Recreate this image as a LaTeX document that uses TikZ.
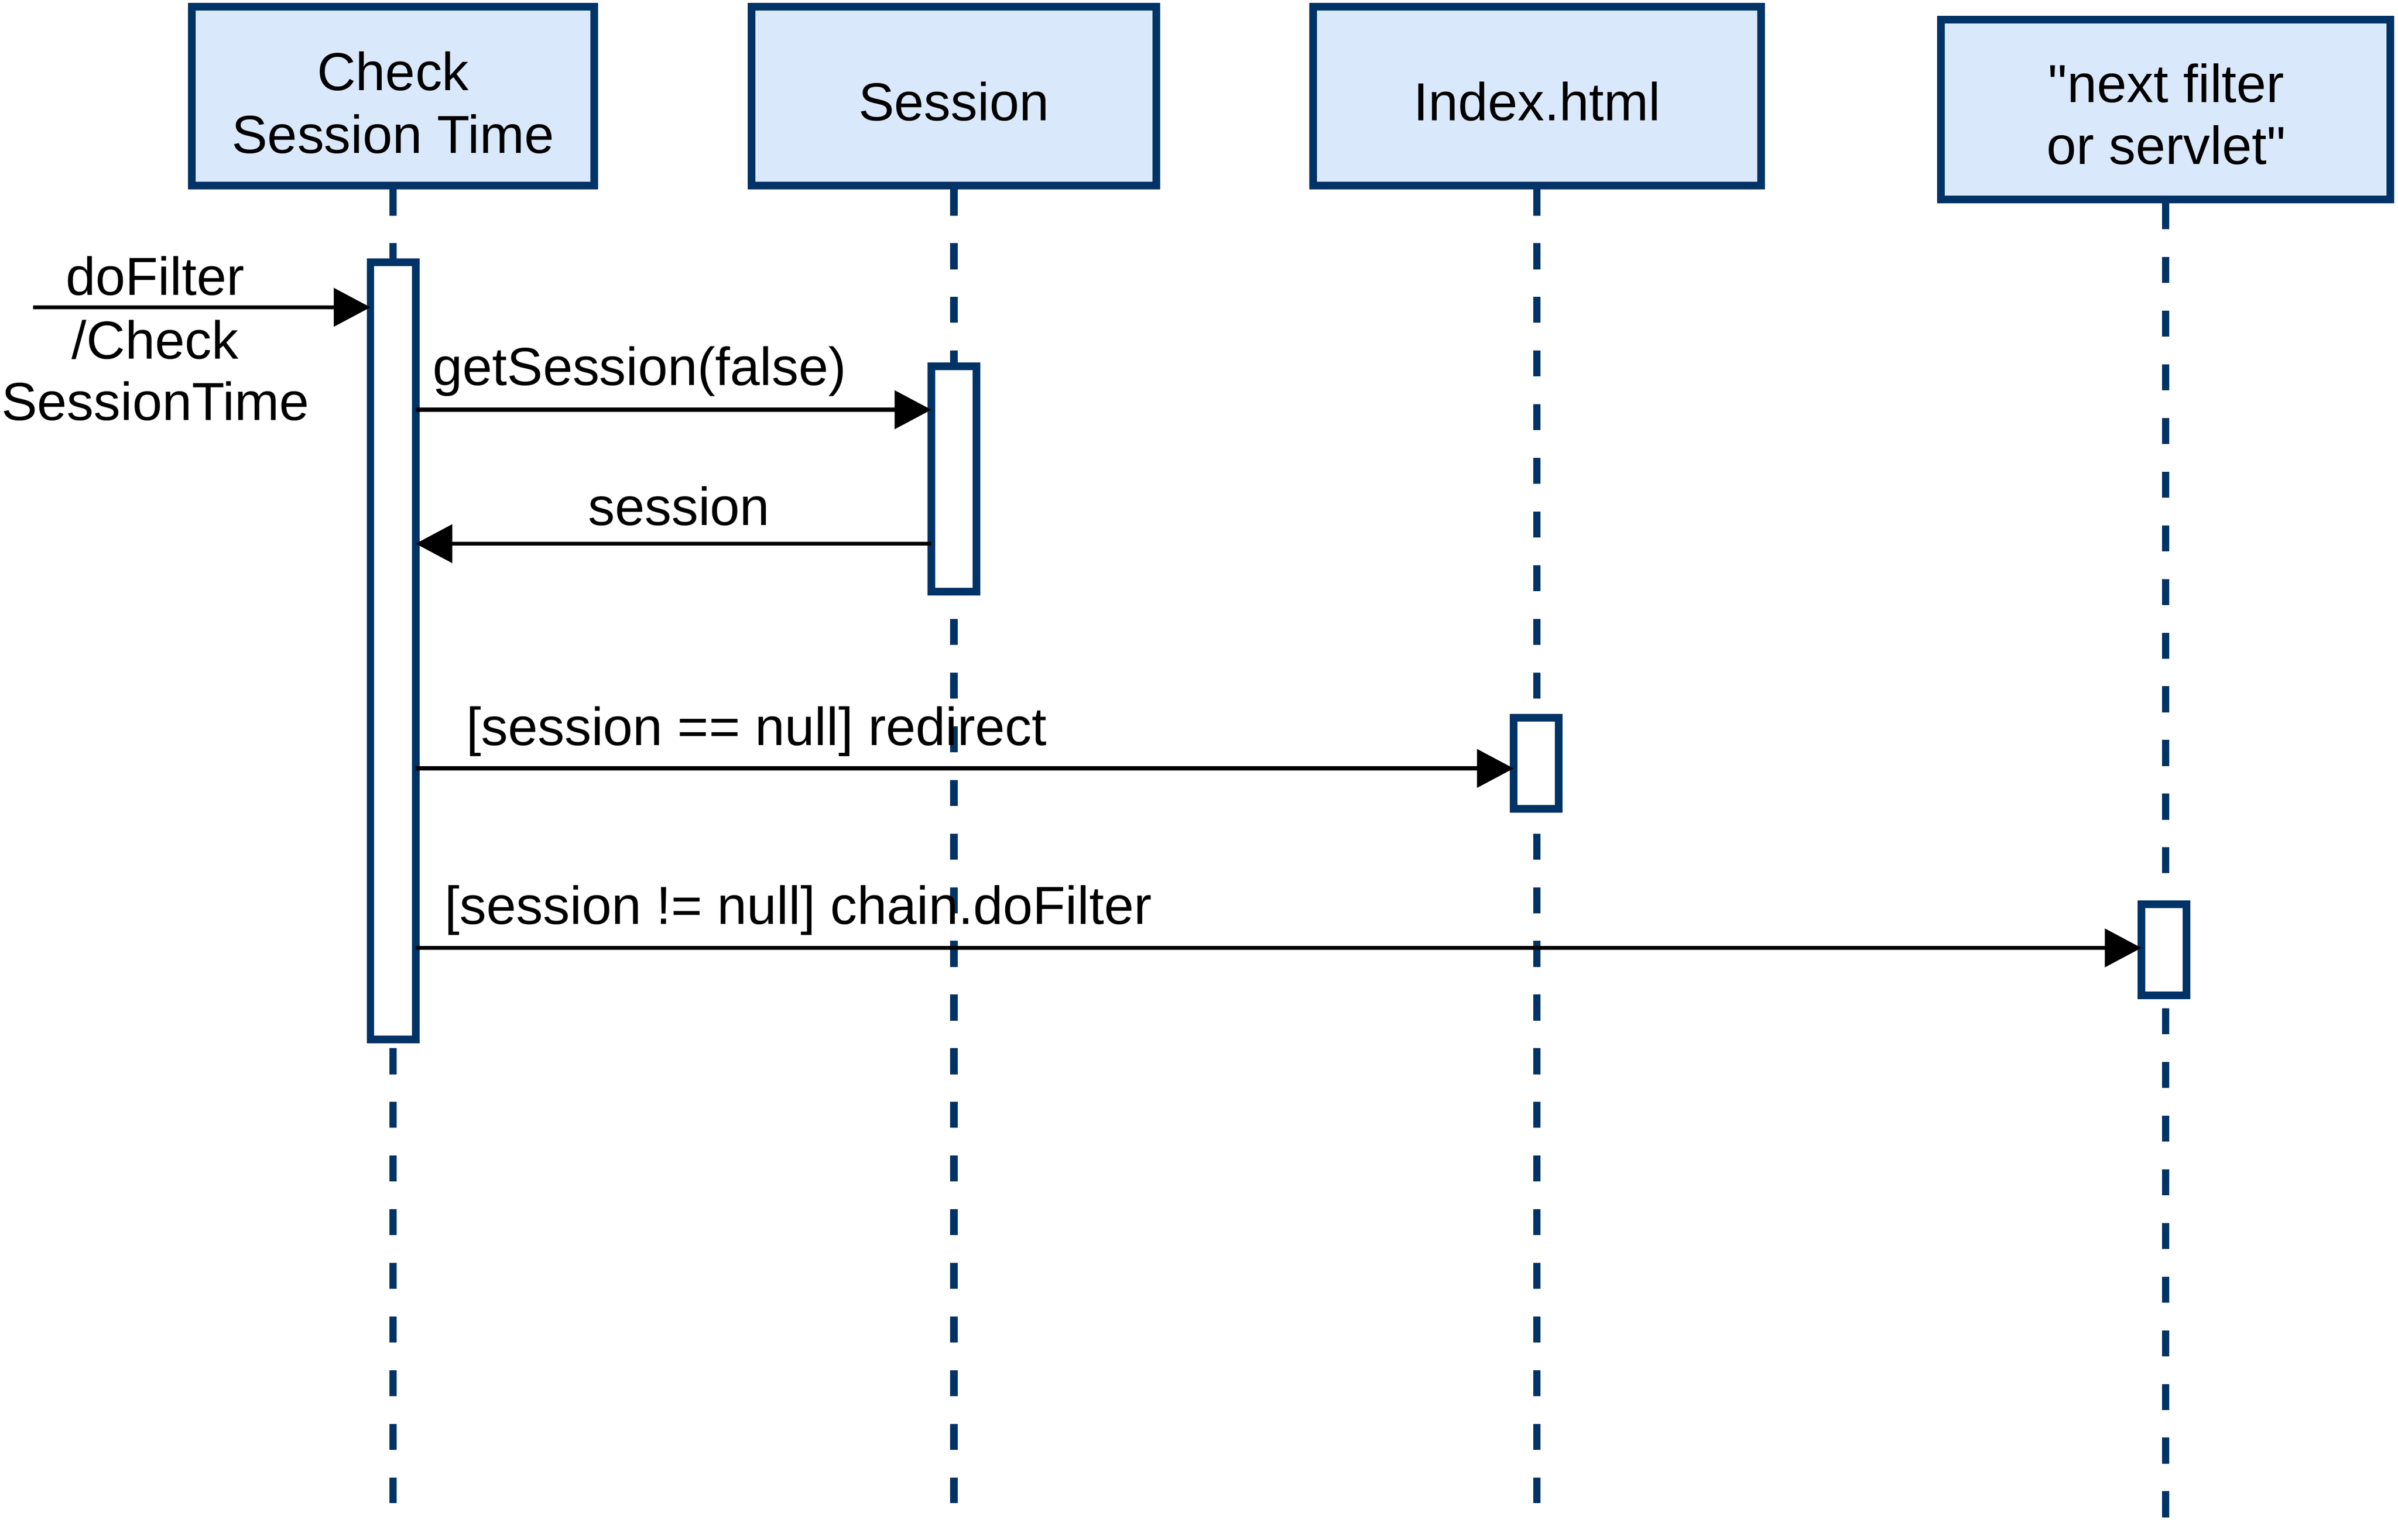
\documentclass[tikz,border=0pt]{standalone}
\usepackage{fontspec}
\setmainfont{Liberation Sans}[Ligatures=TeXOff]
\usetikzlibrary{arrows.meta}
\definecolor{boxfill}{HTML}{DAE8FC}
\definecolor{boxline}{HTML}{003366}
\begin{document}
\begin{tikzpicture}[x=0.25mm,y=-0.25mm,
  actor/.style={draw=boxline,fill=boxfill,line width=1.25mm,inner sep=0pt,outer sep=0pt,minimum height=29.25mm},
  actbar/.style={draw=boxline,fill=white,line width=1.25mm,inner sep=0pt,outer sep=0pt,minimum width=7.375mm},
  lifeline/.style={draw=boxline,line width=1.2mm,dash pattern=on 4.25mm off 4.525mm},
  msg/.style={draw=black,line width=0.66mm,-{Triangle[length=6mm,width=6.2mm]}},
  lbl/.style={inner sep=0pt,outer sep=0pt,anchor=base,font=\fontsize{24.9}{30}\selectfont}]
\useasboundingbox (0,0) rectangle (1568,1007.2);

% lifeline boxes
\node[actor,minimum width=65.75mm] (b1) at (257,63) {};
\node[actor,minimum width=66.125mm] (b2) at (623.75,63) {};
\node[actor,minimum width=73.25mm] (b3) at (1005,63) {};
\node[actor,minimum width=73.5mm,minimum height=29.375mm] (b4) at (1416,71.75) {};

% box texts
\node[lbl] (t1a) at (257,59) {Check};
\node[lbl] (t1b) at (257,100.3) {Session Time};
\node[lbl] (t2) at (623.75,79) {Session};
\node[lbl] (t3) at (1005,79) {Index.html};
\node[lbl] (t4a) at (1416.5,67) {"next filter};
\node[lbl] (t4b) at (1416.5,107.5) {or servlet"};

% lifeline ends
\coordinate (e1) at (257,983);
\coordinate (e2) at (623.75,983);
\coordinate (e3) at (1005,983);
\coordinate (e4) at (1416,992.5);

\draw[lifeline] ([yshift=-0.625mm]b1.south) -- (e1);
\draw[lifeline] ([yshift=-0.625mm]b2.south) -- (e2);
\draw[lifeline] ([yshift=-0.625mm]b3.south) -- (e3);
\draw[lifeline] ([yshift=-0.625mm]b4.south) -- (e4);

% activation bars
\node[actbar,minimum height=127.125mm] (a1) at (257,425.75) {};
\node[actbar,minimum height=36.875mm] (a2) at (623.75,313.25) {};
\node[actbar,minimum height=14.875mm] (a3) at (1004.5,499.25) {};
\node[actbar,minimum height=14.875mm] (a4) at (1415,621.25) {};

% message levels
\coordinate (y0) at (0,201);
\coordinate (y1) at (0,268);
\coordinate (y2) at (0,355.6);
\coordinate (y3) at (0,502.6);
\coordinate (y4) at (0,620);
\coordinate (s0) at (21.5,201);

\draw[msg] (s0) -- (a1.west |- y0);
\draw[msg] (a1.east |- y1) -- (a2.west |- y1);
\draw[msg] (a2.west |- y2) -- (a1.east |- y2);
\draw[msg] (a1.east |- y3) -- (a3.west |- y3);
\draw[msg] (a1.east |- y4) -- (a4.west |- y4);

% message labels
\node[lbl] (l0a) at (101.5,193) {doFilter};
\node[lbl] (l0b) at (101.5,234.6) {/Check};
\node[lbl] (l0c) at (101.5,275) {SessionTime};
\node[lbl,anchor=base west] (l1) at (283,252) {getSession(false)};
\node[lbl] (l2) at (444,343.5) {session};
\node[lbl,anchor=base west] (l3) at (305,487.5) {[session == null] redirect};
\node[lbl,anchor=base west] (l4) at (291,604.5) {[session != null] chain.doFilter};
\end{tikzpicture}
\end{document}
